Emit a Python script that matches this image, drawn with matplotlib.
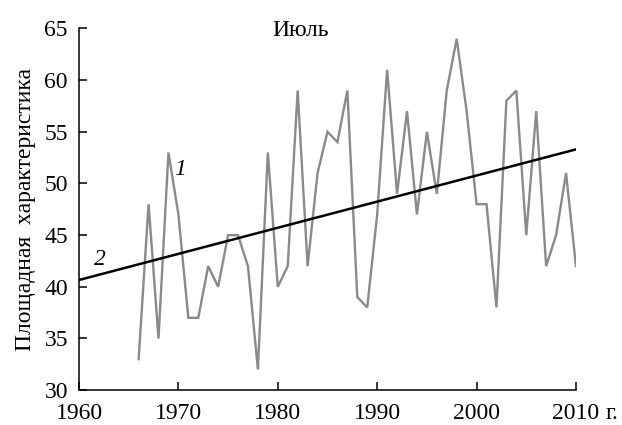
import numpy as np
from matplotlib import pyplot as plt

plt.rcParams['font.family'] = ['Liberation Serif', 'DejaVu Serif']

# площадная характеристика, июль
years = np.arange(1966, 2011)
values = [33, 48, 35, 53, 47, 37, 37, 42, 40, 45,
          45, 42, 32, 53, 40, 42, 59, 42, 51, 55,
          54, 59, 39, 38, 47, 61, 49, 57, 47, 55,
          49, 59, 64, 57, 48, 48, 38, 58, 59, 45,
          57, 42, 45, 51, 42]

# linear trend (end points)
trend_years = [1960, 2010]
trend_values = [40.66, 53.3]

xticks = [1960, 1970, 1980, 1990, 2000, 2010]
yticks = [30, 35, 40, 45, 50, 55, 60, 65]

fig = plt.figure(figsize=(6.22, 4.25), dpi=100)
ax = fig.add_axes([0.127, 0.082, 0.799, 0.851])

ax.plot(years, values, color="#8a8a8a", lw=1.7, solid_joinstyle="miter")
ax.plot(trend_years, trend_values, color="black", lw=1.8)

ax.set_xlim(1960, 2010)
ax.set_ylim(30, 65)
ax.set_xticks(xticks)
ax.set_yticks(yticks)
ax.tick_params(direction="in", length=6, width=1.1, labelsize=17)
ax.tick_params(axis="x", pad=9)
ax.tick_params(axis="y", pad=8)

for s in ["top", "right"]:
    ax.spines[s].set_visible(False)
for s in ["left", "bottom"]:
    ax.spines[s].set_linewidth(1.1)

ax.set_ylabel("Площадная  характеристика", fontsize=17, labelpad=6)

ax.text(1982.3, 64.8, "Июль", fontsize=17, ha="center", va="center")
ax.text(1970.2, 51.4, "1", fontsize=17, style="italic", ha="center", va="center")
ax.text(1962.1, 42.6, "2", fontsize=17, style="italic", ha="center", va="center")

ax.annotate("г.", xy=(2010, 0), xycoords=("data", "axes fraction"),
            xytext=(21, -9), textcoords="offset points",
            fontsize=17, ha="left", va="top", annotation_clip=False)

plt.savefig("out.png", dpi=100)
